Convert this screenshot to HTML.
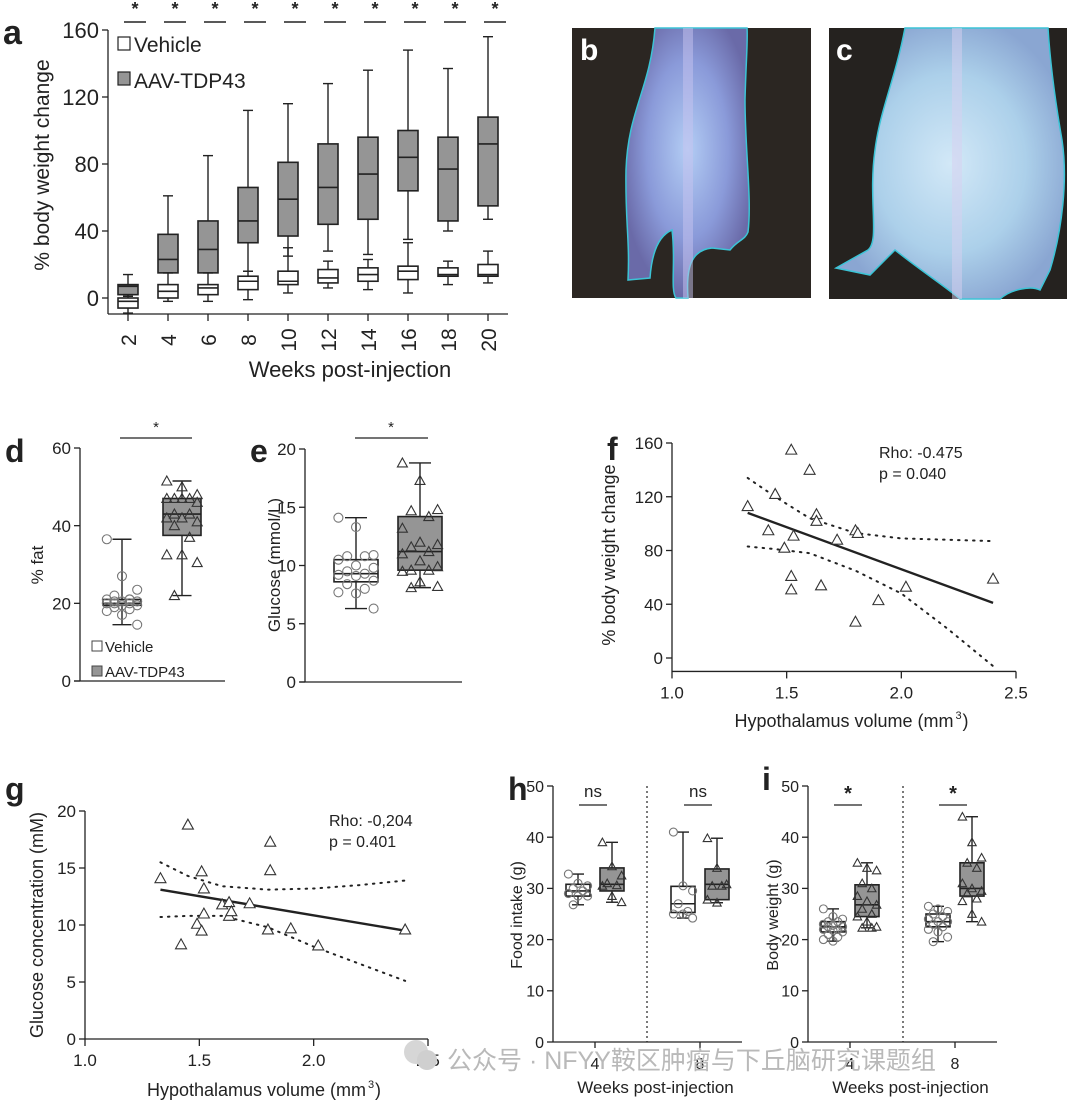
<!DOCTYPE html>
<html><head><meta charset="utf-8"><style>
html,body{margin:0;padding:0;background:#fff}
svg{display:block}
text{font-family:"Liberation Sans","Noto Sans CJK SC",sans-serif;fill:#222}
.n{font-family:"Liberation Sans Narrow","Liberation Sans",sans-serif}
</style></head><body>
<svg id="fig" width="1080" height="1107" viewBox="0 0 1080 1107" xmlns="http://www.w3.org/2000/svg">
<defs>
<radialGradient id="gb" cx="0.5" cy="0.45" r="0.55"><stop offset="0" stop-color="#b3cdf4"/><stop offset="0.6" stop-color="#8a9ad9"/><stop offset="1" stop-color="#6a6aa8"/></radialGradient>
<radialGradient id="gc" cx="0.5" cy="0.5" r="0.55"><stop offset="0" stop-color="#d2e8f7"/><stop offset="0.6" stop-color="#acd0ea"/><stop offset="1" stop-color="#8aa6d2"/></radialGradient>
</defs>
<g>
<rect x="572" y="28" width="239" height="270" fill="#2b2622"/>
<path d="M655,28 C650,90 628,110 626,170 C625,220 630,240 628,280 L650,278 C652,250 660,235 672,230 C676,260 670,290 676,298 L688,298 C686,270 690,250 712,248 L730,250 C738,240 745,240 748,232 C752,200 745,150 745,100 C746,60 748,40 747,28 Z" fill="url(#gb)" stroke="#3cc4d6" stroke-width="1.5"/>
<rect x="683" y="28" width="10" height="270" fill="#c8c4f0" opacity="0.5"/>
<text x="580" y="60" font-size="30" font-weight="bold" style="fill:#fff">b</text>
</g>
<g>
<rect x="829" y="28" width="238" height="271" fill="#25221f"/>
<path d="M905,28 C895,80 880,110 875,150 C868,200 880,240 868,250 L836,268 L870,275 L895,250 C920,270 950,290 960,299 L1000,299 C1010,290 1030,285 1040,290 L1050,270 C1062,230 1068,180 1062,140 C1055,100 1050,60 1048,28 Z" fill="url(#gc)" stroke="#3cc4d6" stroke-width="1.5"/>
<rect x="952" y="28" width="10" height="271" fill="#d8d0f0" opacity="0.5"/>
<text x="836" y="60" font-size="30" font-weight="bold" style="fill:#fff">c</text>
</g>
<g id="root"></g>
<g>
<circle cx="416" cy="1052" r="12" fill="#d6d6d6"/><circle cx="427" cy="1060" r="10" fill="#cfcfcf"/>
<text x="447" y="1069" font-size="25" style="fill:#b9b9b9">公众号 · NFYY鞍区肿瘤与下丘脑研究课题组</text>
</g>
</svg>
<script>
// ---------- DATA ----------
const aWeeks=[2,4,6,8,10,12,14,16,18,20];
const aVehicle=[[-9,-6,-2,0,2],[-2,0,4,8,15],[-2,2,6,8,15],[-1,5,10,13,16],[3,8,10,16,30],[6,9,12,17,22],[5,10,14,18,23],[3,11,16,19,33],[8,13,14,18,22],[9,13,14,20,28]];
const aAAV=[[1,2,7,8,14],[15,15,23,38,61],[15,15,29,46,85],[16,33,46,66,112],[25,37,59,81,116],[28,44,66,92,128],[26,47,74,96,136],[35,64,84,100,148],[40,46,77,96,137],[47,55,92,108,156]];
const aYTicks=[0,40,80,120,160];
const dVehBox=[14.5,19.5,20,21,36.5];
const dAAVBox=[22,37.5,43,47,51.5];
const dVehPts=[36.5,27,23.5,22,21,21,20.5,20.5,20,20,20,19.5,19.5,19,18.5,18,17,14.5,20.5,21];
const dAAVPts=[51.5,50,48,47,47,47,47,46,43,43,42,42,41,40,37,32.5,32.5,30.5,22];
const dYTicks=[0,20,40,60];
const eVehBox=[6.3,8.6,9.3,10.5,14.1];
const eAAVBox=[8.1,9.6,11.2,14.2,18.8];
const eVehPts=[14.1,13.3,10.9,10.8,10.8,10.5,10,9.8,9.5,9.3,9.2,9.1,8.7,8.4,8,7.7,7.6,6.3];
const eAAVPts=[18.8,17.3,14.8,14.7,14.2,13.2,12,11.8,11.6,11.2,11,10.4,9.9,9.6,9.6,9.5,8.6,8.2,8.1];
const eYTicks=[0,5,10,15,20];
const fX=[1.33,1.45,1.42,1.49,1.52,1.53,1.52,1.52,1.60,1.63,1.63,1.65,1.72,1.80,1.81,1.80,1.90,2.02,2.40];
const fY=[113,122,95,82,155,91,61,51,140,107,102,54,88,95,93,27,43,53,59];
const fFitX=[1.33,2.40];
const fFitY=[108,41];
const fCIX=[1.33,1.45,1.6,1.8,2.0,2.2,2.4];
const fCIUp=[134,120,104,93,89,88,87];
const fCILo=[83,81,78,65,48,22,-6];
const fYTicks=[0,40,80,120,160];
const xTicksHV=[1.0,1.5,2.0,2.5];
const gX=[1.33,1.42,1.45,1.49,1.51,1.51,1.52,1.52,1.60,1.63,1.63,1.64,1.72,1.80,1.81,1.81,1.90,2.02,2.40];
const gY=[14.1,8.3,18.8,10.1,14.7,9.5,13.2,11,11.8,12,10.8,11.2,11.9,9.6,14.8,17.3,9.7,8.2,9.6];
const gFitX=[1.33,2.40];
const gFitY=[13.1,9.5];
const gCIX=[1.33,1.45,1.6,1.8,2.0,2.2,2.4];
const gCIUp=[15.5,14.3,13.4,13.1,13.2,13.5,13.9];
const gCILo=[10.7,10.8,10.8,9.8,8.1,6.6,5.1];
const gYTicks=[0,5,10,15,20];
const hiWeeks=[4,8];
const hVehBox=[[26.8,28.5,29.5,30.8,32.8],[24.2,25.3,27,30.4,41]];
const hAAVBox=[[27.3,29.5,30.8,34,39],[27.2,27.8,30.8,33.8,39.8]];
const hVehPts=[[32.8,31,30.5,30,29.5,29,28.5,28.5,26.8],[41,30.5,29.5,27,25.5,25,25,24.2]];
const hAAVPts=[[39,34.3,32.5,31,30.6,30.5,28.5,27.3],[39.8,34,30.8,30.5,30.5,27.8,27.2]];
const iVehBox=[[19.7,21.5,22.5,23.5,26],[19.6,22.5,23.5,25,26.5]];
const iAAVBox=[[22.3,24.5,26.8,30.7,35],[23.5,28.5,30,35,44]];
const iVehPts=[[26,24.5,24,23.5,23.5,23,22.8,22.5,22.5,22,22,21.8,21.5,21,20.5,20,19.7],[26.5,26,25.5,25,24.5,24,23.5,23.5,23,22.5,22,21.5,20.5,19.6]];
const iAAVPts=[[35,34,33.5,31,30,28.5,27.5,26.8,26,25,24.5,23.5,22.5,22.3,22.3],[44,39,36,35,34,31,30,29.5,29,28,27.5,25,23.5]];
const hiYTicks=[0,10,20,30,40,50];

// ---------- HELPERS ----------
const NS="http://www.w3.org/2000/svg";
const root=document.getElementById('root');
const GRAY='#959595';
function mk(tag,attrs,parent){const e=document.createElementNS(NS,tag);for(const k in attrs)e.setAttribute(k,attrs[k]);(parent||root).appendChild(e);return e;}
function lin(d0,d1,r0,r1){return v=>r0+(v-d0)*(r1-r0)/(d1-d0);}
function line(x1,y1,x2,y2,p,w,extra){return mk('line',Object.assign({x1,y1,x2,y2,stroke:'#222','stroke-width':w||1.3},extra||{}),p);}
function txt(x,y,s,size,p,extra){const e=mk('text',Object.assign({x,y,'font-size':size},extra||{}),p);e.textContent=s;return e;}
function box(g,cx,w,b,y,fill){
  const grp=mk('g',{},g);
  
  
  line(cx,y(b[0]),cx,y(b[1]),grp,1.4);
  line(cx,y(b[3]),cx,y(b[4]),grp,1.4);
  line(cx-w/4,y(b[0]),cx+w/4,y(b[0]),grp,1.4);
  line(cx-w/4,y(b[4]),cx+w/4,y(b[4]),grp,1.4);
  mk('rect',{x:cx-w/2,y:y(b[3]),width:w,height:Math.max(1,y(b[1])-y(b[3])),fill:fill,stroke:'#222','stroke-width':1.6},grp);
  line(cx-w/2,y(b[2]),cx+w/2,y(b[2]),grp,1.6);
}
function tri(p,x,y,s,fill){return mk('path',{d:`M${x},${y-s} L${x+s},${y+s*0.8} L${x-s},${y+s*0.8} Z`,fill:fill||'none',stroke:'#333','stroke-width':1.1},p);}
function pts(g,cx,w,vals,y,kind,r){
  vals.forEach((v,i)=>{const off=(((i*7)%5)-2)*w/5;
    let e;
    if(kind==='c'){e=mk('circle',{cx:cx+off,cy:y(v),r:r,fill:'none',stroke:'#777','stroke-width':1.1},g);}
    else{e=tri(g,cx+off,y(v),r);}
    
    
  });
}
function yAxis(g,x,y,ticks,top,bottom,size){
  line(x,top,x,bottom,g,1.3);
  ticks.forEach(t=>{line(x-6,y(t),x,y(t),g,1.3);const e=txt(x-9,y(t)+size*0.36,t,size,g,{'text-anchor':'end'});
    
    });
}

// ---------- PANEL A ----------
(function(){
  const g=mk('g',{});
  
  
  const y=lin(0,160,298,30);
  const x=lin(2,20,128,488);
  txt(3,44,'a',34,g,{'font-weight':'bold'});
  yAxis(g,108,y,aYTicks,30,314,22);
  line(108,314,508,314,g,1.3);
  aWeeks.forEach((w,i)=>{
    line(x(w),314,x(w),321,g,1.3);
    const t=txt(0,0,w,21,g,{'text-anchor':'middle',transform:`translate(${x(w)+8},${340}) rotate(-90)`});
    
    
    box(g,x(w),20,aAAV[i],y,GRAY);
    box(g,x(w),20,aVehicle[i],y,'#fff');
    const s=txt(x(w)+7,15,'*',18,g,{'text-anchor':'middle','font-weight':'bold'});
    
    
    line(x(w)-4,22,x(w)+18,22,g,1.5);
  });
  const yt=txt(0,0,'% body weight change',21,g,{'text-anchor':'middle',transform:'translate(49,165) rotate(-90)'});
  
  
  const xt=txt(350,377,'Weeks post-injection',22,g,{'text-anchor':'middle'});
  
  
  const l1=mk('g',{},g);
  
  
  mk('rect',{x:118,y:37,width:12,height:13,fill:'#fff',stroke:'#222','stroke-width':1.2},l1);
  txt(134,52,'Vehicle',21,l1);
  const l2=mk('g',{},g);
  
  
  mk('rect',{x:118,y:72,width:12,height:13,fill:GRAY,stroke:'#222','stroke-width':1.2},l2);
  txt(134,88,'AAV-TDP43',21,l2);
})();

// ---------- PANEL D ----------
(function(){
  const g=mk('g',{});
  
  
  const y=lin(0,60,681,448);
  txt(5,462,'d',32,g,{'font-weight':'bold'});
  yAxis(g,80,y,dYTicks,448,681,17);
  line(74,681,225,681,g,1.3);
  box(g,122,38,dVehBox,y,'#fff');pts(g,122,38,dVehPts,y,'c',4.5);
  box(g,182,38,dAAVBox,y,GRAY);pts(g,182,38,dAAVPts,y,'t',5);
  line(120,438,192,438,g,1.2);txt(156,432,'*',15,g,{'text-anchor':'middle'});
  const yt=txt(0,0,'% fat',17,g,{'text-anchor':'middle',transform:'translate(43,565) rotate(-90)'});
  
  
  const l1=mk('g',{},g);
  
  
  mk('rect',{x:92,y:641,width:10,height:10,fill:'#fff',stroke:'#444'},l1);txt(105,652,'Vehicle',15,l1);
  const l2=mk('g',{},g);
  
  
  mk('rect',{x:92,y:666,width:10,height:10,fill:GRAY,stroke:'#444'},l2);txt(105,677,'AAV-TDP43',15,l2);
})();

// ---------- PANEL E ----------
(function(){
  const g=mk('g',{});
  
  
  const y=lin(0,20,682,449);
  txt(250,462,'e',32,g,{'font-weight':'bold'});
  yAxis(g,305,y,eYTicks,449,682,17);
  line(300,682,462,682,g,1.3);
  box(g,356,44,eVehBox,y,'#fff');pts(g,356,44,eVehPts,y,'c',4.5);
  box(g,420,44,eAAVBox,y,GRAY);pts(g,420,44,eAAVPts,y,'t',5);
  line(355,438,428,438,g,1.2);txt(391,432,'*',15,g,{'text-anchor':'middle'});
  const yt=txt(0,0,'Glucose (mmol/L)',17,g,{'text-anchor':'middle',class:'n',transform:'translate(280,565) rotate(-90)'});
  
  
})();

// ---------- SCATTER ----------
function scatter(name,label,lx,ly,ax,ay0,ay1,ax1,yTop,yMin,yMax,ticks,X,Y,FX,FY,CX,CU,CL,rho,pv,rhoX,rhoY,ytitle,ytx,yty,xtitleY,tsize){
  const g=mk('g',{});
  
  
  const y=lin(0,yMax,ay0,yTop);
  const x=lin(1.0,2.5,ax,ax1);
  txt(lx,ly,label,32,g,{'font-weight':'bold'});
  const yb=y(yMin);
  yAxis(g,ax,y,ticks,yTop,yb,tsize);
  line(ax,yb,ax1,yb,g,1.3);
  xTicksHV.forEach(t=>{line(x(t),yb,x(t),yb+7,g,1.3);const e=txt(x(t),yb+27,t.toFixed(1),tsize,g,{'text-anchor':'middle'});
    
    });
  const up=mk('path',{d:CX.map((c,i)=>(i?'L':'M')+x(c)+','+y(CU[i])).join(' '),fill:'none',stroke:'#222','stroke-width':2,'stroke-dasharray':'1.5 6','stroke-linecap':'round'},g);
  
  
  const lo=mk('path',{d:CX.map((c,i)=>(i?'L':'M')+x(c)+','+y(CL[i])).join(' '),fill:'none',stroke:'#222','stroke-width':2,'stroke-dasharray':'1.5 6','stroke-linecap':'round'},g);
  
  
  const fit=line(x(FX[0]),y(FY[0]),x(FX[1]),y(FY[1]),g,2.4);
  
  
  X.forEach((v,i)=>{const e=tri(g,x(v),y(Y[i]),5.5,'#fff');
    
    });
  txt(rhoX,rhoY,rho,16,g,{class:'n'});txt(rhoX,rhoY+21,pv,16,g,{class:'n'});
  const yt=txt(0,0,ytitle,18,g,{'text-anchor':'middle',transform:`translate(${ytx},${yty}) rotate(-90)`});
  
  
  const xt=txt((ax+ax1)/2,xtitleY,'Hypothalamus volume (mm',18,g,{'text-anchor':'middle'});
  
  
  const tl=xt.getComputedTextLength?xt.getComputedTextLength():200;
  txt((ax+ax1)/2+tl/2+2,xtitleY-8,'3',11,g);
  txt((ax+ax1)/2+tl/2+9,xtitleY,')',18,g);
}
scatter('panel-f-scatter','f',607,460,672,658,443,1016,443,-10,160,fYTicks,fX,fY,fFitX,fFitY,fCIX,fCIUp,fCILo,'Rho: -0.475','p = 0.040',879,458,'% body weight change',615,555,727,17);
scatter('panel-g-scatter','g',5,800,85,1039,811,428,811,0,20,gYTicks,gX,gY,gFitX,gFitY,gCIX,gCIUp,gCILo,'Rho: -0,204','p = 0.401',329,826,'Glucose concentration (mM)',43,925,1096,17);

// ---------- PANELS H, I ----------
function hi(name,label,lx,ly,ax,ax1,div,c4,c8,VB,AB,VP,AP,sig,ytitle,ytx){
  const g=mk('g',{});
  
  
  const y=lin(0,50,1042,786);
  txt(lx,ly,label,32,g,{'font-weight':'bold'});
  yAxis(g,ax,y,hiYTicks,786,1042,16);
  line(ax,1042,ax1,1042,g,1.3);
  line(div,786,div,1042,g,1.2,{'stroke-dasharray':'2 3'});
  const cs=[c4,c8];
  hiWeeks.forEach((w,i)=>{
    const c=cs[i];
    line(c,1042,c,1048,g,1.3);
    const t=txt(c,1069,w,16,g,{'text-anchor':'middle'});
    
    
    box(g,c-17,24,VB[i],y,'#fff');pts(g,c-17,24,VP[i],y,'c',4);
    box(g,c+17,24,AB[i],y,GRAY);pts(g,c+17,24,AP[i],y,'t',4.2);
    line(c-16,805,c+12,805,g,1.3);
    const s=txt(c-2,sig==='*'?800:797,sig,sig==='*'?20:17,g,{'text-anchor':'middle','font-weight':sig==='*'?'bold':'normal'});
    
    
  });
  const yt=txt(0,0,ytitle,16,g,{'text-anchor':'middle',class:'n',transform:`translate(${ytx},915) rotate(-90)`});
  
  
  const xt=txt((ax+ax1)/2+8,1093,'Weeks post-injection',17,g,{'text-anchor':'middle',class:'n'});
  
  
}
hi('panel-h-food','h',508,800,553,742,647,595,700,hVehBox,hAAVBox,hVehPts,hAAVPts,'ns','Food intake (g)',522);
hi('panel-i-bodyweight','i',762,790,808,997,903,850,955,iVehBox,iAAVBox,iVehPts,iAAVPts,'*','Body weight (g)',778);
</script>
</body></html>
